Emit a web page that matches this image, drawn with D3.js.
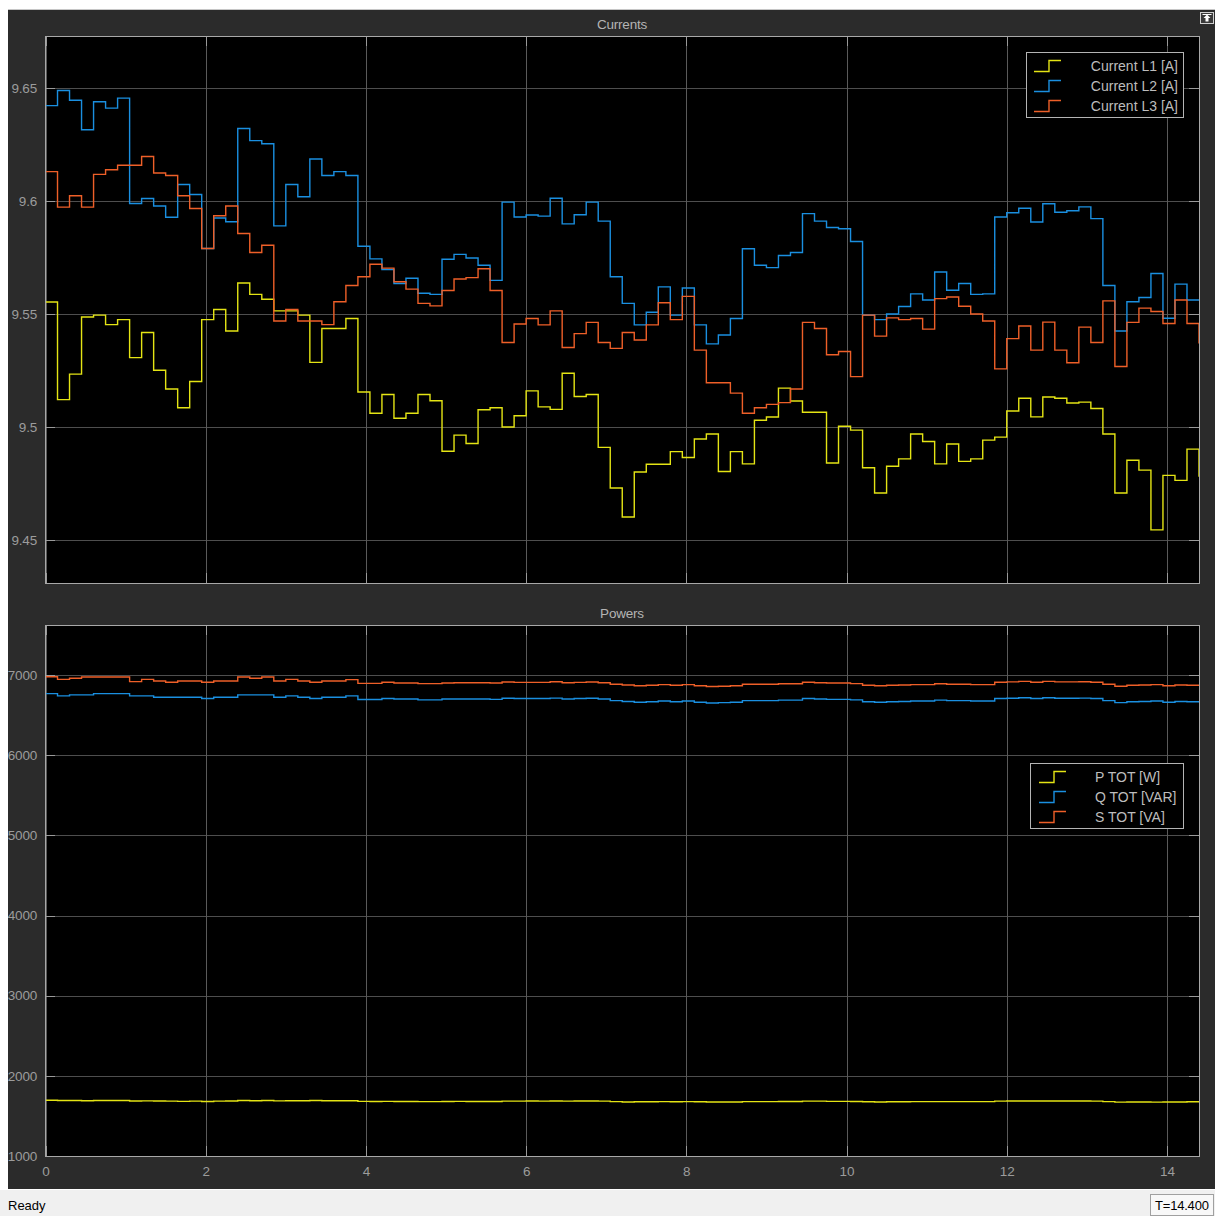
<!DOCTYPE html>
<html>
<head>
<meta charset="utf-8">
<script src="https://cdn.jsdelivr.net/npm/d3@7/dist/d3.min.js"></script>
<style>
body { margin: 0; background: #fff; }
svg text { font-family: "Liberation Sans", Arial, sans-serif; }
</style>
</head>
<body>
<script>
// scope data, sample period 0.15 s, last sample at T=14.4
var samplePeriod = 0.15;

var currentL1 = [9.5553, 9.5121, 9.5234, 9.5487, 9.5495, 9.5453, 9.5475, 9.5307, 9.5418, 9.5251,
  9.5168, 9.5085, 9.5201, 9.5475, 9.552, 9.5425, 9.5637, 9.5587, 9.5565, 9.5514,
  9.5514, 9.5495, 9.5286, 9.5436, 9.5436, 9.548, 9.5155, 9.5061, 9.5144, 9.5039,
  9.5061, 9.5144, 9.5116, 9.4893, 9.4964, 9.4927, 9.5076, 9.5085, 9.5, 9.505,
  9.516, 9.5089, 9.5078, 9.5238, 9.5135, 9.5144, 9.491, 9.473, 9.4602, 9.4801,
  9.4835, 9.4835, 9.4891, 9.4865, 9.4947, 9.4969, 9.4803, 9.4891, 9.4837, 9.503,
  9.5044, 9.5172, 9.5115, 9.5065, 9.5065, 9.4841, 9.5003, 9.4986, 9.482, 9.4708,
  9.4826, 9.4859, 9.4969, 9.4936, 9.4837, 9.4925, 9.4848, 9.4859, 9.4942, 9.4955,
  9.5071, 9.5127, 9.5045, 9.5133, 9.5127, 9.5106, 9.511, 9.5082, 9.4969, 9.4708,
  9.4853, 9.4809, 9.4545, 9.4786, 9.4764, 9.4902, 9.478];

var currentL2 = [9.6422, 9.6489, 9.6446, 9.6315, 9.6439, 9.6411, 9.6455, 9.5989, 9.6011, 9.5978,
  9.5928, 9.6073, 9.6029, 9.579, 9.5925, 9.5908, 9.6321, 9.6267, 9.6253, 9.589,
  9.6073, 9.6019, 9.6186, 9.6113, 9.613, 9.6113, 9.58, 9.5744, 9.5697, 9.5635,
  9.5658, 9.5592, 9.5587, 9.5742, 9.5764, 9.5748, 9.5716, 9.5649, 9.5995, 9.5929,
  9.5938, 9.5933, 9.6012, 9.5899, 9.5939, 9.5995, 9.5911, 9.5665, 9.5547, 9.5452,
  9.5508, 9.562, 9.5495, 9.5615, 9.5452, 9.5368, 9.5407, 9.548, 9.5789, 9.5716,
  9.5705, 9.5759, 9.5772, 9.5944, 9.5911, 9.5883, 9.5877, 9.5821, 9.5495, 9.5475,
  9.55, 9.5533, 9.5589, 9.5562, 9.5686, 9.5605, 9.5635, 9.5587, 9.5589, 9.5929,
  9.5948, 9.5968, 9.5907, 9.5988, 9.595, 9.5957, 9.5974, 9.5922, 9.5626, 9.5425,
  9.5554, 9.5573, 9.5679, 9.5481, 9.5632, 9.5562, 9.5562];

var currentL3 = [9.613, 9.5973, 9.6023, 9.5973, 9.6118, 9.6138, 9.6158, 9.6158, 9.6197, 9.6124,
  9.6113, 9.6023, 9.5967, 9.579, 9.5935, 9.5978, 9.5856, 9.5772, 9.5804, 9.5469,
  9.552, 9.5469, 9.5469, 9.5453, 9.5554, 9.5626, 9.5665, 9.572, 9.5703, 9.5643,
  9.561, 9.5547, 9.5536, 9.5604, 9.5655, 9.5661, 9.57, 9.5604, 9.5374, 9.5456,
  9.548, 9.5452, 9.5514, 9.5352, 9.5413, 9.5463, 9.5374, 9.5348, 9.5418, 9.5385,
  9.5452, 9.555, 9.5475, 9.5578, 9.534, 9.5196, 9.5196, 9.515, 9.5061, 9.5085,
  9.51, 9.5108, 9.5168, 9.5463, 9.5436, 9.532, 9.5334, 9.5223, 9.5495, 9.5402,
  9.5483, 9.5475, 9.548, 9.5433, 9.5568, 9.5575, 9.5534, 9.55, 9.5469, 9.5257,
  9.5391, 9.5447, 9.534, 9.5464, 9.534, 9.5284, 9.5442, 9.5374, 9.5558, 9.5268,
  9.5463, 9.5526, 9.5511, 9.5458, 9.5562, 9.5458, 9.537];

var pTot = [1695, 1692, 1692, 1690, 1692, 1692, 1692, 1686, 1688, 1686,
  1684, 1682, 1684, 1680, 1684, 1686, 1692, 1690, 1692, 1688,
  1690, 1690, 1692, 1690, 1690, 1690, 1682, 1680, 1682, 1680,
  1680, 1678, 1678, 1680, 1682, 1680, 1680, 1680, 1684, 1684,
  1686, 1684, 1686, 1684, 1686, 1686, 1684, 1678, 1674, 1676,
  1676, 1678, 1676, 1678, 1676, 1674, 1674, 1674, 1678, 1678,
  1678, 1680, 1680, 1684, 1684, 1682, 1682, 1680, 1676, 1674,
  1676, 1676, 1678, 1678, 1678, 1678, 1678, 1678, 1678, 1684,
  1686, 1686, 1686, 1686, 1686, 1686, 1686, 1684, 1678, 1672,
  1674, 1674, 1672, 1674, 1674, 1676, 1674];

var qTot = [6768, 6739, 6752, 6752, 6768, 6768, 6768, 6739, 6739, 6723,
  6723, 6723, 6723, 6706, 6723, 6723, 6752, 6752, 6752, 6723,
  6739, 6723, 6706, 6723, 6723, 6739, 6694, 6694, 6706, 6700,
  6700, 6690, 6690, 6700, 6700, 6700, 6700, 6696, 6710, 6706,
  6706, 6706, 6712, 6700, 6706, 6710, 6700, 6680, 6670, 6660,
  6666, 6676, 6666, 6676, 6660, 6650, 6656, 6660, 6680, 6680,
  6680, 6686, 6686, 6706, 6700, 6696, 6696, 6690, 6666, 6660,
  6666, 6670, 6676, 6676, 6686, 6680, 6680, 6676, 6676, 6706,
  6710, 6716, 6706, 6716, 6710, 6710, 6712, 6706, 6680, 6656,
  6666, 6670, 6676, 6660, 6670, 6666, 6666];

var sTot = [6979, 6946, 6959, 6975, 6975, 6975, 6975, 6917, 6946, 6925,
  6909, 6925, 6925, 6909, 6925, 6925, 6975, 6959, 6975, 6925,
  6946, 6925, 6909, 6925, 6925, 6942, 6896, 6896, 6909, 6900,
  6900, 6892, 6892, 6900, 6904, 6904, 6904, 6900, 6912, 6908,
  6908, 6908, 6916, 6904, 6908, 6912, 6904, 6884, 6876, 6866,
  6872, 6880, 6872, 6880, 6866, 6856, 6860, 6866, 6884, 6884,
  6884, 6890, 6890, 6910, 6904, 6900, 6900, 6892, 6872, 6866,
  6872, 6876, 6880, 6880, 6890, 6884, 6884, 6880, 6880, 6910,
  6914, 6920, 6910, 6920, 6914, 6914, 6916, 6910, 6884, 6860,
  6872, 6876, 6880, 6866, 6876, 6872, 6872];

var currentNames = ["Current L1 [A]", "Current L2 [A]", "Current L3 [A]"];
var powerNames = ["P TOT [W]", "Q TOT [VAR]", "S TOT [VA]"];
var lineColors = ["#e4e414", "#1a8fe0", "#ee5f28"];

var xTicks = [0, 2, 4, 6, 8, 10, 12, 14];
var currentTicks = [9.45, 9.5, 9.55, 9.6, 9.65];
var powerTicks = [1000, 2000, 3000, 4000, 5000, 6000, 7000];

var width = 1215,
    height = 1216;

var svg = d3.select("body")
    .append("svg")
    .attr("width", width)
    .attr("height", height);

// figure background
svg.append("rect").attr("width", width).attr("height", height).attr("fill", "#ffffff");
svg.append("rect")
    .attr("x", 8).attr("y", 10)
    .attr("width", width - 8).attr("height", 1179)
    .attr("fill", "#2b2b2b");
svg.append("line")
    .attr("x1", 8).attr("x2", width).attr("y1", 9.5).attr("y2", 9.5)
    .attr("stroke", "#c6c6c6");

var x = d3.scaleLinear()
    .domain([0, 14.4])
    .range([45.5, 1199]);

function toPoints(values){
    return values.map(function(v, i){
        return { t: i * samplePeriod, v: v };
    });
}

function drawPanel(cfg){
    var g = svg.append("g");
    var left = 45, right = 1199;

    var y = d3.scaleLinear()
        .domain(cfg.domain)
        .range(cfg.range);

    g.append("rect")
        .attr("x", left).attr("y", cfg.top)
        .attr("width", right - left).attr("height", cfg.bottom - cfg.top)
        .attr("fill", "#000");

    // grid
    g.selectAll(".hgrid")
        .data(cfg.ticks)
        .enter()
        .append("line")
        .attr("x1", left).attr("x2", right)
        .attr("y1", function(d){ return Math.round(y(d)) + 0.5; })
        .attr("y2", function(d){ return Math.round(y(d)) + 0.5; })
        .attr("stroke", "#4e4e4e");
    g.selectAll(".vgrid")
        .data(xTicks)
        .enter()
        .append("line")
        .attr("x1", function(d){ return Math.round(x(d)) + 0.5; })
        .attr("x2", function(d){ return Math.round(x(d)) + 0.5; })
        .attr("y1", cfg.top).attr("y2", cfg.bottom)
        .attr("stroke", "#5a5a5a");

    // small tick marks on the box edges
    g.selectAll(".ytick")
        .data(cfg.ticks)
        .enter()
        .append("line")
        .attr("x1", left).attr("x2", left + 10)
        .attr("y1", function(d){ return Math.round(y(d)) + 0.5; })
        .attr("y2", function(d){ return Math.round(y(d)) + 0.5; })
        .attr("stroke", "#9a9a9a");
    g.selectAll(".ytickR")
        .data(cfg.ticks)
        .enter()
        .append("line")
        .attr("x1", right - 10).attr("x2", right)
        .attr("y1", function(d){ return Math.round(y(d)) + 0.5; })
        .attr("y2", function(d){ return Math.round(y(d)) + 0.5; })
        .attr("stroke", "#9a9a9a");
    g.selectAll(".xtickT")
        .data(xTicks)
        .enter()
        .append("line")
        .attr("x1", function(d){ return Math.round(x(d)) + 0.5; })
        .attr("x2", function(d){ return Math.round(x(d)) + 0.5; })
        .attr("y1", cfg.top).attr("y2", cfg.top + 10)
        .attr("stroke", "#9a9a9a");
    g.selectAll(".xtickB")
        .data(xTicks)
        .enter()
        .append("line")
        .attr("x1", function(d){ return Math.round(x(d)) + 0.5; })
        .attr("x2", function(d){ return Math.round(x(d)) + 0.5; })
        .attr("y1", cfg.bottom - 10).attr("y2", cfg.bottom)
        .attr("stroke", "#9a9a9a");

    // y labels through d3 axis
    var yAxis = d3.axisLeft(y)
        .tickValues(cfg.ticks)
        .tickSize(0)
        .tickPadding(8)
        .tickFormat(cfg.format);
    var ya = g.append("g")
        .attr("transform", "translate(" + left + ",0)")
        .call(yAxis);
    ya.select(".domain").remove();
    ya.selectAll("text")
        .attr("fill", "#9c9c9c")
        .style("font-size", "13.5px")
        .style("letter-spacing", "-0.2px");

    if (cfg.showX){
        var xAxis = d3.axisBottom(x)
            .tickValues(xTicks)
            .tickSize(0)
            .tickPadding(10)
            .tickFormat(d3.format("d"));
        var xa = g.append("g")
            .attr("transform", "translate(0," + cfg.bottom + ")")
            .call(xAxis);
        xa.select(".domain").remove();
        xa.selectAll("text")
            .attr("fill", "#9c9c9c")
            .style("font-size", "13.5px");
    }

    // signals
    var clipId = "clip" + cfg.top;
    g.append("clipPath").attr("id", clipId)
        .append("rect")
        .attr("x", left).attr("y", cfg.top)
        .attr("width", right - left + 1).attr("height", cfg.bottom - cfg.top);

    var line = d3.line()
        .x(function(d){ return x(d.t); })
        .y(function(d){ return y(d.v); })
        .curve(d3.curveStepAfter);

    g.append("g")
        .attr("clip-path", "url(#" + clipId + ")")
        .selectAll(".signal")
        .data(cfg.series)
        .enter()
        .append("path")
        .attr("class", "signal")
        .attr("d", function(d){ return line(toPoints(d)); })
        .attr("fill", "none")
        .attr("stroke", function(d, i){ return lineColors[i]; })
        .attr("stroke-width", 1.4);

    // axes box
    g.append("rect")
        .attr("x", left + 0.5).attr("y", cfg.top + 0.5)
        .attr("width", right - left).attr("height", cfg.bottom - cfg.top)
        .attr("fill", "none")
        .attr("stroke", "#a8a8a8");

    // title
    g.append("text")
        .attr("x", 622).attr("y", cfg.top - 7)
        .attr("text-anchor", "middle")
        .attr("fill", "#b4b4b4")
        .style("font-size", "13.5px")
        .style("letter-spacing", "-0.2px")
        .text(cfg.title);

    // legend
    var lg = cfg.legend;
    var leg = g.append("g");
    leg.append("rect")
        .attr("x", lg.x + 0.5).attr("y", lg.y + 0.5)
        .attr("width", lg.w).attr("height", lg.h)
        .attr("fill", "#000")
        .attr("stroke", "#b4b4b4");
    var items = leg.selectAll(".item")
        .data(cfg.names)
        .enter()
        .append("g")
        .attr("transform", function(d, i){ return "translate(0," + (lg.y + 14 + i * 20) + ")"; });
    items.append("path")
        .attr("d", function(){
            var x0 = lg.x + lg.sx;
            return "M" + x0 + ",5.5H" + (x0 + 15) + "V-5.5H" + (x0 + 27);
        })
        .attr("fill", "none")
        .attr("stroke", function(d, i){ return lineColors[i]; })
        .attr("stroke-width", 1.4);
    items.append("text")
        .attr("x", lg.tx)
        .attr("y", 5)
        .attr("text-anchor", lg.anchor)
        .attr("fill", "#bdbdbd")
        .style("font-size", "14px")
        .text(function(d){ return d; });
}

drawPanel({
    top: 36, bottom: 583,
    domain: [9.45, 9.65], range: [540, 88],
    ticks: currentTicks,
    format: function(d){ return d3.format("")(+d.toFixed(2)); },
    series: [currentL1, currentL2, currentL3],
    names: currentNames,
    title: "Currents",
    showX: false,
    legend: { x: 1026, y: 52, w: 157, h: 65, sx: 8, tx: 1178, anchor: "end" }
});

drawPanel({
    top: 625, bottom: 1156,
    domain: [1000, 7000], range: [1156, 675],
    ticks: powerTicks,
    format: d3.format("d"),
    series: [pTot, qTot, sTot],
    names: powerNames,
    title: "Powers",
    showX: true,
    legend: { x: 1030, y: 763, w: 153, h: 65, sx: 9, tx: 1095, anchor: "start" }
});

// left margin covers clipped tick labels
svg.append("rect")
    .attr("x", 0).attr("y", 0)
    .attr("width", 8).attr("height", 1190)
    .attr("fill", "#ffffff");

// undock button in the corner
var btn = svg.append("g").attr("transform", "translate(1200,12)");
btn.append("rect").attr("x", 0.5).attr("y", 0.5).attr("width", 13).attr("height", 11)
    .attr("fill", "#3a3a3a").attr("stroke", "#d0d0d0");
btn.append("path").attr("d", "M7,2.5L3.5,6H5.5V9.5H8.5V6H10.5Z").attr("fill", "#ffffff");
btn.append("line").attr("x1", 2.5).attr("x2", 11.5).attr("y1", 2.5).attr("y2", 2.5)
    .attr("stroke", "#ffffff");

// status bar
svg.append("rect")
    .attr("x", 0).attr("y", 1189)
    .attr("width", width).attr("height", height - 1189)
    .attr("fill", "#f0f0f0");
svg.append("line")
    .attr("x1", 0).attr("x2", width).attr("y1", 1189.5).attr("y2", 1189.5)
    .attr("stroke", "#ffffff");
svg.append("text")
    .attr("x", 8).attr("y", 1210)
    .attr("fill", "#000")
    .style("font-size", "13px")
    .text("Ready");
svg.append("rect")
    .attr("x", 1150.5).attr("y", 1194.5)
    .attr("width", 63).attr("height", 21)
    .attr("fill", "#f8f8f8")
    .attr("stroke", "#a0a0a0");
svg.append("text")
    .attr("x", 1155).attr("y", 1210)
    .attr("fill", "#000")
    .style("font-size", "13px")
    .style("letter-spacing", "-0.2px")
    .text("T=14.400");
</script>
</body>
</html>
